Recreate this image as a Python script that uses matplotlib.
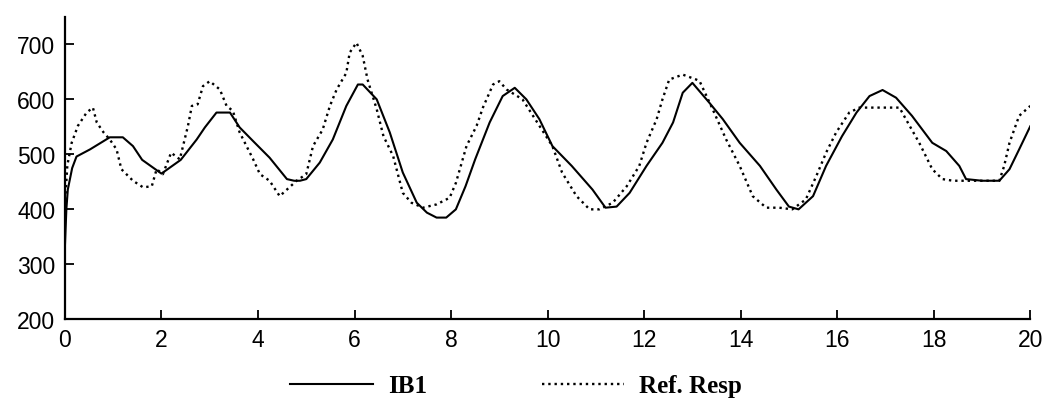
import matplotlib.pyplot as plt

# IB1 (solid)
t_ib1 = [0, 0.03, 0.06, 0.15, 0.24, 0.52, 0.93, 1.2, 1.41, 1.6, 2.0, 2.4, 2.73, 2.9, 3.14,
         3.42, 3.62, 3.9, 4.24, 4.6, 4.75, 4.87, 5.0, 5.28, 5.55, 5.83, 6.07, 6.17, 6.46,
         6.73, 7.0, 7.29, 7.5, 7.7, 7.9, 8.1, 8.3, 8.5, 8.8, 9.07, 9.32, 9.56, 9.83, 10.1,
         10.5, 10.93, 11.2, 11.43, 11.7, 12.05, 12.38, 12.6, 12.8, 13.0, 13.35, 13.63, 13.98,
         14.4, 14.74, 15.0, 15.2, 15.5, 15.77, 16.1, 16.4, 16.67, 16.94, 17.22, 17.55, 17.97,
         18.26, 18.53, 18.67, 19.0, 19.36, 19.57, 19.77, 20.0]
ib1 = [333, 400, 436, 475, 496, 509, 531, 531, 515, 490, 465, 490, 527, 549, 576,
       576, 549, 524, 494, 455, 452, 452, 455, 485, 527, 588, 627, 627, 600,
       540, 467, 412, 394, 385, 385, 400, 442, 491, 558, 606, 621, 600, 564, 515,
       479, 436, 403, 405, 430, 479, 521, 558, 612, 630, 594, 564, 521,
       479, 436, 405, 400, 424, 479, 533, 576, 606, 617, 603, 570, 521,
       506, 479, 455, 452, 452, 473, 509, 551]

# Ref. Resp (dotted)
t_ref = [0, 0.05, 0.14, 0.27, 0.45, 0.58, 0.66, 0.8, 0.93, 1.07, 1.17, 1.41, 1.62, 1.8, 1.9,
         2.03, 2.2, 2.38, 2.55, 2.63, 2.75, 2.86, 3.0, 3.21, 3.35, 3.48, 3.62, 3.9, 4.04,
         4.24, 4.45, 4.6, 4.8, 5.0, 5.14, 5.34, 5.49, 5.63, 5.83, 5.9, 6.04, 6.17, 6.27,
         6.46, 6.6, 6.8, 7.0, 7.18, 7.42, 7.7, 7.97, 8.1, 8.32, 8.53, 8.66, 8.87, 9.0, 9.15,
         9.48, 9.83, 10.1, 10.3, 10.6, 10.87, 11.07, 11.35, 11.64, 11.9, 12.05, 12.26, 12.38,
         12.52, 12.8, 13.08, 13.15, 13.42, 13.7, 13.98, 14.25, 14.53, 14.8, 15.07, 15.35,
         15.57, 15.77, 15.98, 16.25, 16.46, 17.29, 17.5, 17.7, 17.97, 18.18, 18.4, 19.36,
         19.46, 19.57, 19.77, 20.0]
ref = [406, 480, 521, 552, 576, 585, 558, 540, 527, 509, 473, 452, 440, 442, 473,
       464, 503, 491, 552, 588, 591, 624, 633, 618, 588, 579, 540, 491, 464,
       452, 424, 436, 452, 464, 515, 545, 588, 618, 648, 685, 703, 679, 636,
       582, 533, 497, 430, 412, 403, 409, 421, 448, 515, 552, 585, 627, 633, 618,
       600, 552, 515, 467, 424, 400, 400, 412, 442, 479, 521, 564, 600,
       636, 645, 636, 633, 582, 527, 479, 424, 403, 403, 400, 418,
       461, 503, 540, 576, 585, 585, 552, 521, 473, 455, 452, 452,
       479, 521, 570, 588]

x_ticks = [0, 2, 4, 6, 8, 10, 12, 14, 16, 18, 20]
y_ticks = [200, 300, 400, 500, 600, 700]

fig = plt.figure(figsize=(10.47, 4.06), dpi=100)
ax = fig.add_axes([0.062, 0.211, 0.922, 0.745])

ax.plot(t_ib1, ib1, color='black', linewidth=1.5, label='IB1')
ax.plot(t_ref, ref, color='black', linewidth=1.7, linestyle=':', label='Ref. Resp')

ax.set_xlim(0, 20)
ax.set_ylim(200, 750)
ax.set_xticks(x_ticks)
ax.set_yticks(y_ticks)
ax.spines['top'].set_visible(False)
ax.spines['right'].set_visible(False)
ax.spines['left'].set_linewidth(1.6)
ax.spines['bottom'].set_linewidth(1.6)
ax.tick_params(direction='in', length=6.5, width=1.3, labelsize=16.5)
ax.tick_params(axis='y', pad=7)
ax.tick_params(axis='x', pad=6)
for lab in ax.get_xticklabels() + ax.get_yticklabels():
    lab.set_family('Liberation Sans')

fig.legend(loc='center', bbox_to_anchor=(0.493, 0.047), ncol=2, frameon=False,
           handlelength=3.3, columnspacing=4.6, handletextpad=0.6,
           prop={'family': 'Liberation Serif', 'weight': 'bold', 'size': 18})

fig.savefig('out.png', dpi=100)
